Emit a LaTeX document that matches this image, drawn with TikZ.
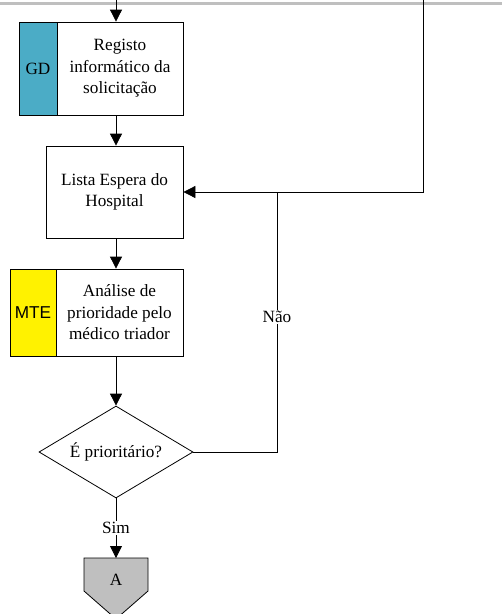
\documentclass[tikz,border=0pt]{standalone}
\usepackage{fontspec}
\setmainfont{Liberation Serif}
\newfontfamily\arialf{Liberation Sans}
\usetikzlibrary{arrows.meta,shapes.geometric}
\begin{document}
\begin{tikzpicture}[x=1pt,y=-1pt,
  ln/.style={line width=0.8pt,draw=black},
  arr/.style={ln,-{Triangle[length=12pt,width=12pt]}},
  procbox/.style={draw=black,line width=0.8pt,fill=white,inner sep=0pt,align=center,
    font=\fontsize{17.2}{21.5}\selectfont},
  strip/.style={draw=black,line width=0.8pt,inner sep=0pt,font=\fontsize{17.2}{20}\selectfont},
  lbl/.style={fill=white,inner sep=1pt,font=\fontsize{17.2}{20}\selectfont}]
\useasboundingbox (0,0) rectangle (502,614);
\clip (0,0) rectangle (502,614);
\draw[line width=3pt,draw=black!25] (0,3.5) -- (502,3.5);
\coordinate (top) at (116,0);
\coordinate (topr) at (423,0);
% box 1
\node[strip,fill={rgb,255:red,75;green,172;blue,198},minimum width=38pt,minimum height=93pt] (gd) at (38,68.5) {GD};
\node[procbox,minimum width=126pt,minimum height=93pt] (r1) at (120,68.5) {Registo\\informático da\\solicitação};
% box 2
\node[procbox,minimum width=137pt,minimum height=92pt] (l2) at (114.5,192) {Lista Espera do\\Hospital};
% box 3
\node[strip,fill=yellow,minimum width=46pt,minimum height=87pt,font=\arialf\fontsize{17.2}{20}\selectfont] (mte) at (33,312.5) {MTE};
\node[procbox,minimum width=127pt,minimum height=87pt] (a3) at (119.5,312.5) {Análise de\\prioridade pelo\\médico triador};
% decision
\node[diamond,draw=black,line width=0.8pt,inner sep=0pt,aspect=1.67,minimum width=154pt,minimum height=92pt,
  font=\fontsize{17.2}{20}\selectfont] (dec) at (116,452) {É prioritário?};
% off-page connector
\coordinate (pl) at (84,558);
\coordinate (pr) at (148,558);
\draw[line width=0.8pt,fill=black!25] (pl) -- (pr) -- (148,591) -- (116,619) -- (84,591) -- cycle;
\node[font=\fontsize{17.2}{20}\selectfont] (pa) at (116,580) {A};
% connectors
\draw[arr] (top) -- (r1.north -| top);
\draw[arr] (r1.south -| top) -- (l2.north -| top);
\draw[arr] (l2.south -| top) -- (a3.north -| top);
\draw[arr] (a3.south -| top) -- (dec.north);
\draw[arr] (dec.south) -- node[lbl] (sim) {Sim} (pl -| top);
\coordinate (nj) at (277,192);
\draw[ln] (dec.east) -| node[lbl,pos=0.76] (nao) {Não} (nj);
\draw[arr] (topr) |- (l2.east);
\end{tikzpicture}
\end{document}
